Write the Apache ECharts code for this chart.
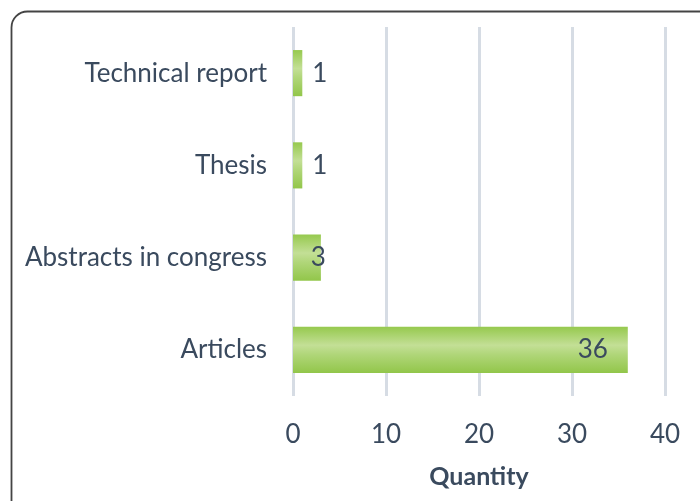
<!DOCTYPE html>
<html><head><meta charset="utf-8">
<script src="https://cdn.jsdelivr.net/npm/echarts@6/dist/echarts.min.js"></script>
<style>html,body{margin:0;padding:0;background:#fff}#c{width:700px;height:501px}</style>
</head><body><div id="c"></div>
<script>
const categories = ['Articles', 'Abstracts in congress', 'Thesis', 'Technical report'];
const quantities = [36, 3, 1, 1];
const xTicks = [0, 10, 20, 30, 40];
const axisTitle = 'Quantity';

const textColor = '#3a4a5e';
const font = 'Lato';
const chart = echarts.init(document.getElementById('c'), null, {renderer: 'canvas'});

function labelFor(v) {
  if (v >= 10) return {position: 'insideRight', distance: 20};
  if (v >= 2) return {position: 'insideRight', distance: -5};
  return {position: 'right', distance: 10};
}

chart.setOption({
  animation: false,
  graphic: [{
    type: 'rect', shape: {x: 11.5, y: 11.5, width: 760, height: 560, r: 16},
    style: {fill: 'none', stroke: '#444', lineWidth: 1.8}, silent: true, z: 100
  }],
  grid: {left: 293, right: 35, top: 27, bottom: 105, containLabel: false},
  xAxis: {
    type: 'value', min: xTicks[0], max: xTicks[xTicks.length - 1], interval: 10,
    name: axisTitle, nameLocation: 'middle', nameGap: 68,
    nameTextStyle: {fontFamily: font, fontSize: 25, fontWeight: 'bold', color: textColor},
    axisLine: {show: false}, axisTick: {show: false},
    axisLabel: {fontFamily: font, fontSize: 26, color: textColor, margin: 26},
    splitLine: {show: true, lineStyle: {color: '#d6dce4', width: 3}}
  },
  yAxis: {
    type: 'category', data: categories,
    axisLine: {show: false}, axisTick: {show: false},
    axisLabel: {fontFamily: font, fontSize: 26, color: textColor, margin: 26}
  },
  series: [{
    type: 'bar', barWidth: '50%',
    data: quantities.map(v => ({value: v, label: labelFor(v)})),
    itemStyle: {
      color: new echarts.graphic.LinearGradient(0, 0, 0, 1, [
        {offset: 0, color: '#96c94e'},
        {offset: 0.4, color: '#c3df96'},
        {offset: 0.6, color: '#b0d679'},
        {offset: 1, color: '#92c64a'}
      ])
    },
    label: {show: true, fontFamily: font, fontSize: 26, color: textColor}
  }]
});
</script></body></html>
